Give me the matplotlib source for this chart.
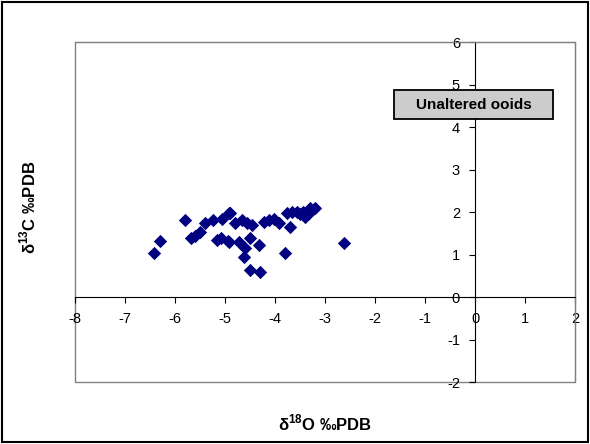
import numpy as np
import matplotlib
matplotlib.use('Agg')
import matplotlib.pyplot as plt
from matplotlib.patches import Rectangle

plt.rcParams['font.family'] = ['Liberation Sans', 'DejaVu Sans']
plt.rcParams['mathtext.fontset'] = 'custom'
plt.rcParams['mathtext.rm'] = 'Liberation Sans'
plt.rcParams['mathtext.bf'] = 'Liberation Sans:bold'
plt.rcParams['axes.unicode_minus'] = False

# d18O, d13C (permil PDB)
d18o = [-6.41, -6.3, -5.8, -5.69, -5.6, -5.5, -5.4, -5.25, -5.07, -4.93,
        -5.17, -5.08, -4.95, -4.9, -4.8, -4.67, -4.57, -4.47, -4.23, -4.13,
        -4.03, -3.93, -3.77, -3.67, -3.7, -4.93, -4.73, -4.5, -4.33, -4.6,
        -4.63, -3.8, -4.5, -4.3, -3.57, -3.5, -3.45, -3.4, -3.35, -3.3,
        -3.27, -3.2, -2.63]
d13c = [1.03, 1.32, 1.81, 1.38, 1.44, 1.54, 1.73, 1.81, 1.84, 1.97,
        1.34, 1.4, 1.32, 1.97, 1.73, 1.81, 1.73, 1.69, 1.77, 1.81,
        1.83, 1.75, 1.97, 1.99, 1.64, 1.3, 1.3, 1.38, 1.22, 1.15,
        0.95, 1.03, 0.64, 0.6, 2.01, 1.95, 2.0, 1.89, 1.95, 2.1,
        2.05, 2.09, 1.26]

xticks = [-8, -7, -6, -5, -4, -3, -2, -1, 0, 1, 2]
yticks = [-2, -1, 0, 1, 2, 3, 4, 5, 6]

fig = plt.figure(figsize=(5.9, 4.44), dpi=100)
fig.patches.append(Rectangle((0.004, 0.004), 0.992, 0.992, transform=fig.transFigure,
                             fill=False, edgecolor='black', linewidth=1.5))
ax = fig.add_axes([0.127, 0.1396, 0.848, 0.7658])

ax.scatter(d18o, d13c, marker='D', s=46, color='#000080', zorder=3, linewidths=0)

ax.set_xlim(-8, 2)
ax.set_ylim(-2, 6)
ax.set_xticks(xticks)
ax.set_yticks(yticks)
ax.tick_params(labelsize=10.5, length=4, width=0.8, direction='out', pad=7)

ax.spines['left'].set_position(('data', 0))
ax.spines['bottom'].set_position(('data', 0))
for s in ['top', 'right']:
    ax.spines[s].set_color('#808080')
ax.add_patch(Rectangle((0, 0), 1, 1, transform=ax.transAxes, fill=False,
                       edgecolor='#808080', linewidth=1.0, clip_on=False))

ax.set_xlabel(r'δ$^{\mathbf{18}}$O ‰PDB', fontsize=12, fontweight='bold')
ax.set_ylabel(r'δ$^{\mathbf{13}}$C ‰PDB', fontsize=12, fontweight='bold')
ax.xaxis.set_label_coords(0.5, -0.09)
ax.yaxis.set_label_coords(-0.074, 0.515)

# label box
ax.add_patch(Rectangle((0.638, 0.7735), 0.318, 0.0855, transform=ax.transAxes,
                       facecolor='#cccccc', edgecolor='black', linewidth=1.3,
                       zorder=4, clip_on=False))
ax.text(0.797, 0.816, 'Unaltered ooids', transform=ax.transAxes, ha='center', va='center',
        fontsize=11, fontweight='bold', zorder=5)

fig.savefig('out.png')
